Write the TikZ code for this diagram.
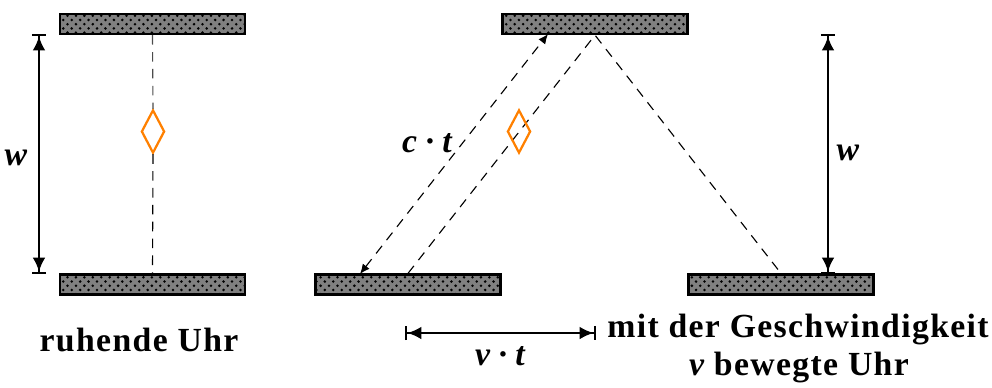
\documentclass[tikz,border=0pt]{standalone}
\usepackage{fontspec}
\setmainfont{Liberation Serif}
\newfontfamily\spacedfont[LetterSpace=4]{Liberation Serif}
\usepackage{tikz}
\usetikzlibrary{positioning,arrows.meta,shapes.geometric,patterns,calc}
\definecolor{photon}{RGB}{255,128,0}

\begin{document}
\begin{tikzpicture}[x=0.0125cm,y=-0.0125cm,
  mirror/.style={rectangle, draw=black, line width=0.8pt, minimum width=2.3125cm,
                 minimum height=0.25cm, inner sep=0pt, preaction={fill=black!50},
                 pattern=crosshatch dots, pattern color=black},
  photonbox/.style={diamond, draw=photon, line width=0.8pt, aspect=0.5,
                    minimum width=0.29cm, minimum height=0.54cm, inner sep=0pt},
  ray/.style={dashed, dash pattern=on 3.4pt off 2.6pt, line width=0.4pt},
  dim/.style={line width=0.8pt,
              {Bar[width=5pt]Latex[length=5pt,width=4.5pt]}-{Latex[length=5pt,width=4.5pt]Bar[width=5pt]}},
  lbl/.style={font=\fontsize{12}{14}\selectfont\bfseries\itshape},
  caption/.style={font=\fontsize{12}{14}\spacedfont\bfseries, align=center}]
  \useasboundingbox (0,0) rectangle (992,387);
  % clock at rest
  \node[mirror](lt) at (152.5,24){};
  \node[mirror](lb) at (152.5,284.5){};
  \node[photonbox](lp) at (153,131.5){};
  \draw[ray,black!70](lt.south)--(lp.north);
  \draw[ray](lp.south)--(lb.north);
  \coordinate (lwt) at (39,34);
  \coordinate (lwb) at (39,274);
  \draw[dim](lwt)--(lwb);
  \node[lbl](lw) at (16,158){w};
  \node[caption](lc) at (139,340){ruhende Uhr};
  % moving clock
  \node[mirror](rt) at (595,24){};
  \node[mirror](rl) at (408,284.5){};
  \node[mirror](rr) at (781,284.5){};
  \draw[ray](rl.north)--(rt.south)--(rr.north);
  \node[photonbox](rp) at (519,131.5){};
  \coordinate (cta) at (360,274);
  \coordinate (ctb) at (548,34);
  \draw[ray,{Latex[length=3.5pt,width=3pt]}-{Latex[length=3.5pt,width=3pt]}](cta)--(ctb);
  \node[lbl](ct) at (427,143){c · t};
  \coordinate (rwt) at (828,34);
  \coordinate (rwb) at (828,274);
  \draw[dim](rwt)--(rwb);
  \node[lbl](rw) at (848,153){w};
  \coordinate (vta) at (405,333);
  \coordinate (vtb) at (596,333);
  \draw[dim](vta)--(vtb);
  \node[lbl](vt) at (500,356){v · t};
  \node[caption](mc) at (798,330){mit der Geschwindigkeit};
  \node[caption](mc2) at (799,368){\itshape v\upshape{} bewegte Uhr};
\end{tikzpicture}
\end{document}
